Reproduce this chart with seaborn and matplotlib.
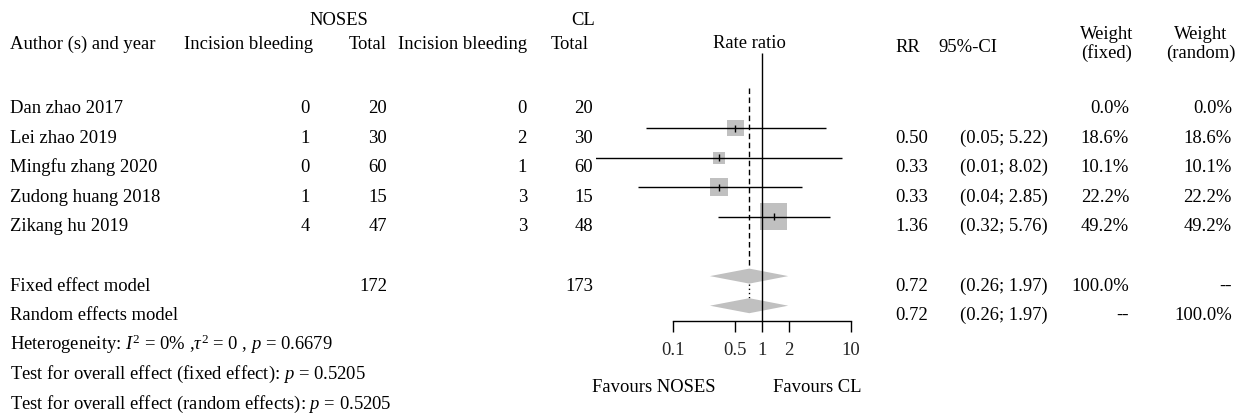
import numpy as np
import pandas as pd
import matplotlib
matplotlib.use("Agg")
import matplotlib.pyplot as plt
import seaborn as sns

# ---- study data -------------------------------------------------------
studies = ["Dan zhao 2017", "Lei zhao 2019", "Mingfu zhang 2020",
           "Zudong huang 2018", "Zikang hu 2019"]
noses_events = [0, 1, 0, 1, 4]
noses_total = [20, 30, 60, 15, 47]
cl_events = [0, 2, 1, 3, 3]
cl_total = [20, 30, 60, 15, 48]
rr = [np.nan, 0.50, 0.33, 0.33, 1.36]
ci_low = [np.nan, 0.05, 0.01, 0.04, 0.32]
ci_high = [np.nan, 5.22, 8.02, 2.85, 5.76]
weight_fixed = [0.0, 18.6, 10.1, 22.2, 49.2]
weight_random = [0.0, 18.6, 10.1, 22.2, 49.2]

# pooled estimates
pooled_rr = 0.72
pooled_low = 0.26
pooled_high = 1.97
total_noses = 172
total_cl = 173

axis_ticks = [0.1, 0.5, 1, 2, 10]
axis_ticklabels = ["0.1", "0.5", "1", "2", "10"]

# ---- style ------------------------------------------------------------
sns.set_theme(style="white")
plt.rcParams["font.family"] = ["Liberation Serif", "DejaVu Serif"]
plt.rcParams["mathtext.fontset"] = "custom"
plt.rcParams["mathtext.rm"] = "Liberation Serif"
plt.rcParams["mathtext.it"] = "Liberation Serif:italic"
FS = 13.4
GREY = "#c0c0c0"

W, H = 1245, 415
fig = plt.figure(figsize=(W / 100, H / 100), dpi=100)

# text layer in pixel units
tab = fig.add_axes([0, 0, 1, 1])
tab.set_xlim(0, W)
tab.set_ylim(H, 0)
tab.axis("off")


def row_base(i):
    return 113 + 29.6 * i


def txt(x, y, s, ha="left", **kw):
    tab.text(x, y, s, ha=ha, va="baseline", fontsize=FS, color="black", **kw)


# column headers
txt(339, 25, "NOSES", ha="center")
txt(583, 25, "CL", ha="center")
txt(10, 49, "Author (s) and year")
txt(313, 49, "Incision bleeding", ha="right")
txt(387, 49, "Total", ha="right")
txt(527, 49, "Incision bleeding", ha="right")
txt(589, 49, "Total", ha="right")
txt(749, 48, "Rate ratio", ha="center")
txt(895, 52, "RR")
txt(938, 52, "95%-CI")
txt(1107, 39, "Weight", ha="center")
txt(1107, 58, "(fixed)", ha="center")
txt(1201, 39, "Weight", ha="center")
txt(1201, 58, "(random)", ha="center")

# study rows
for i, name in enumerate(studies):
    y = row_base(i)
    txt(10, y, name)
    txt(310, y, str(noses_events[i]), ha="right")
    txt(387, y, str(noses_total[i]), ha="right")
    txt(527, y, str(cl_events[i]), ha="right")
    txt(593, y, str(cl_total[i]), ha="right")
    if not np.isnan(rr[i]):
        txt(895, y, f"{rr[i]:.2f}")
        txt(960, y, f"({ci_low[i]:.2f}; {ci_high[i]:.2f})")
    txt(1129, y, f"{weight_fixed[i]:.1f}%", ha="right")
    txt(1232, y, f"{weight_random[i]:.1f}%", ha="right")

# pooled rows
y_fix = row_base(6)
y_ran = row_base(7)
txt(10, y_fix, "Fixed effect model")
txt(387, y_fix, str(total_noses), ha="right")
txt(593, y_fix, str(total_cl), ha="right")
txt(895, y_fix, f"{pooled_rr:.2f}")
txt(960, y_fix, f"({pooled_low:.2f}; {pooled_high:.2f})")
txt(1129, y_fix, "100.0%", ha="right")
txt(1232, y_fix, "--", ha="right")

txt(10, y_ran, "Random effects model")
txt(895, y_ran, f"{pooled_rr:.2f}")
txt(960, y_ran, f"({pooled_low:.2f}; {pooled_high:.2f})")
txt(1129, y_ran, "--", ha="right")
txt(1232, y_ran, "100.0%", ha="right")

txt(10, row_base(8), r"Heterogeneity: $I^2$ = 0% ,$\tau^2$ = 0 , $p$ = 0.6679")
txt(10, row_base(9), r"Test for overall effect (fixed effect): $p$ = 0.5205")
txt(10, row_base(10), r"Test for overall effect (random effects): $p$ = 0.5205")

txt(654, 392, "Favours NOSES", ha="center")
txt(817, 392, "Favours CL", ha="center")

# ---- forest panel (log scale, y in pixel rows) -------------------------
PX_DEC = 89.0      # pixels per decade
X_ONE = 762.0      # pixel of ratio 1
left_px, right_px = 596, 870
top_px, axis_px = 40, 321
ax = fig.add_axes([left_px / W, (H - axis_px) / H,
                   (right_px - left_px) / W, (axis_px - top_px) / H])
ax.set_xscale("log")
ax.set_xlim(10 ** ((left_px - X_ONE) / PX_DEC), 10 ** ((right_px - X_ONE) / PX_DEC))
ax.set_ylim(axis_px, top_px)
ax.patch.set_alpha(0)

mark_off = -14.5
df = pd.DataFrame({"rr": rr, "lo": ci_low, "hi": ci_high,
                   "w": weight_fixed,
                   "y": [row_base(i) + mark_off for i in range(len(studies))]})
est = df.dropna()

# weight squares: area proportional to weight
sns.scatterplot(data=est, x="rr", y="y", size="w", sizes=(0, 768),
                size_norm=(0, 100), marker="s", color=GREY, linewidth=0,
                legend=False, ax=ax, zorder=2)
ax.hlines(est["y"], est["lo"], est["hi"], color="black", lw=1.0, zorder=3)
ax.vlines(est["rr"], est["y"] - 3.5, est["y"] + 3.5, color="black", lw=1.0, zorder=3)

# pooled diamonds
yf = y_fix + mark_off
yr = y_ran + mark_off
hd = 7.5
for yc in (yf, yr):
    ax.fill([pooled_low, pooled_rr, pooled_high, pooled_rr],
            [yc, yc - hd, yc, yc + hd], color=GREY, lw=0, zorder=2)

# reference lines
ax.vlines(1, 53, axis_px, color="black", lw=1.0, zorder=4)
ax.vlines(pooled_rr, 88, yf - hd, color="black", lw=1.0,
          linestyles=[(0, (4, 2.5))], zorder=1)
ax.vlines(pooled_rr, yf + hd, yr - hd, color="black", lw=1.0,
          linestyles=[(0, (1, 2))], zorder=1)

# bottom axis
for side in ("left", "right", "top"):
    ax.spines[side].set_visible(False)
ax.spines["bottom"].set_bounds(axis_ticks[0], axis_ticks[-1])
ax.spines["bottom"].set_linewidth(1.0)
ax.spines["bottom"].set_color("black")
ax.set_xticks(axis_ticks)
ax.set_xticklabels(axis_ticklabels)
ax.xaxis.set_minor_locator(matplotlib.ticker.NullLocator())
ax.tick_params(axis="x", direction="out", length=8, width=1.0,
               color="black", labelsize=FS, pad=7, bottom=True)
ax.set_yticks([])
ax.set_xlabel("")
ax.set_ylabel("")

fig.savefig("out.png", dpi=100)
